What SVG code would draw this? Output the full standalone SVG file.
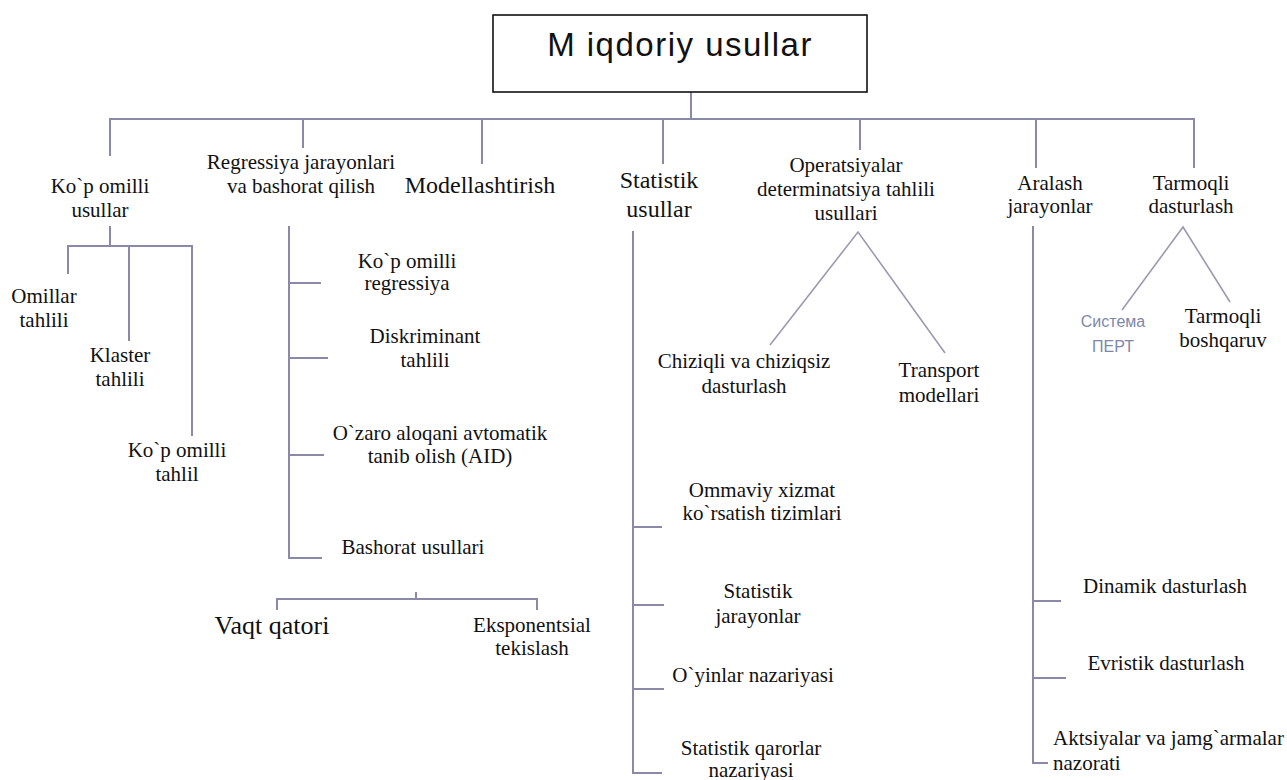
<svg xmlns="http://www.w3.org/2000/svg" width="1287" height="780" viewBox="0 0 1287 780">
  <style>
    .bg { fill: #ffffff; }
    .link { fill: none; stroke: #8a8aa8; stroke-width: 2; stroke-linecap: square; }
    .slant { fill: none; stroke: #9a9ab2; stroke-width: 1.6; }
    .box { fill: #ffffff; stroke: #111111; stroke-width: 1.6; }
    .t { font-family: "Liberation Serif", "Times New Roman", serif; font-size: 21px; fill: #111111; text-anchor: middle; }
    .big { font-size: 24px; }
    .huge { font-size: 26px; }
    .start { text-anchor: start; }
    .title { font-family: "Liberation Sans", Arial, sans-serif; font-size: 33px; letter-spacing: 1.5px; fill: #111111; text-anchor: middle; }
    .ru { font-family: "Liberation Sans", Arial, sans-serif; font-size: 16px; fill: #7d88a8; text-anchor: middle; }
  </style>

  <rect class="bg" x="0" y="0" width="1287" height="780"/>

  <!-- connectors -->
  <g id="connectors">
    <!-- root to main bar -->
    <path class="link" d="M691 92 V119"/>
    <path class="link" d="M110 119 H1194"/>
    <path class="link" d="M110 119 V155 M303 119 V147 M482 119 V163 M663 119 V163 M860 119 V149 M1036 119 V167 M1194 119 V167"/>
    <!-- multi-factor methods -->
    <path class="link" d="M110 227 V246 M68 273 V246 H192 V435 M129 246 V340"/>
    <!-- regression and forecasting -->
    <path class="link" d="M289 227 V558 H321 M289 283 H320 M289 358 H327 M289 455 H323"/>
    <path class="link" d="M277 609 V599 H537 V609 M416 593 V599"/>
    <!-- operations research -->
    <path class="slant" d="M770 345 L858 232 L945 353"/>
    <!-- statistical methods -->
    <path class="link" d="M633 232 V773 H661 M633 527 H661 M633 605 H663 M633 689 H663"/>
    <!-- mixed processes -->
    <path class="link" d="M1033 227 V763 H1047 M1033 601 H1060 M1033 678 H1065"/>
    <!-- network programming -->
    <path class="slant" d="M1122 310 L1183 227 L1230 302"/>
  </g>

  <g id="root">
    <rect class="box" x="493" y="15" width="374" height="77"/>
    <text class="title" x="680" y="56">M iqdoriy usullar</text>
  </g>

  <g id="kop-omilli-usullar">
    <text class="t" x="100" y="193">Ko`p omilli</text>
    <text class="t" x="100" y="217">usullar</text>
  </g>
  <g id="omillar-tahlili">
    <text class="t" x="44" y="303">Omillar</text>
    <text class="t" x="44" y="327">tahlili</text>
  </g>
  <g id="klaster-tahlili">
    <text class="t" x="120" y="362">Klaster</text>
    <text class="t" x="120" y="386">tahlili</text>
  </g>
  <g id="kop-omilli-tahlil">
    <text class="t" x="177" y="457">Ko`p omilli</text>
    <text class="t" x="177" y="481">tahlil</text>
  </g>

  <g id="regressiya">
    <text class="t" x="301" y="169">Regressiya jarayonlari</text>
    <text class="t" x="301" y="193">va bashorat qilish</text>
  </g>
  <g id="kop-omilli-regressiya">
    <text class="t" x="407" y="268">Ko`p omilli</text>
    <text class="t" x="407" y="290">regressiya</text>
  </g>
  <g id="diskriminant">
    <text class="t" x="425" y="343">Diskriminant</text>
    <text class="t" x="425" y="367">tahlili</text>
  </g>
  <g id="aid">
    <text class="t" x="440" y="440">O`zaro aloqani avtomatik</text>
    <text class="t" x="440" y="463">tanib olish (AID)</text>
  </g>
  <g id="bashorat-usullari">
    <text class="t" x="413" y="554">Bashorat usullari</text>
  </g>
  <g id="vaqt-qatori">
    <text class="t huge" x="272" y="634">Vaqt qatori</text>
  </g>
  <g id="eksponentsial">
    <text class="t" x="532" y="632">Eksponentsial</text>
    <text class="t" x="532" y="655">tekislash</text>
  </g>

  <g id="modellashtirish">
    <text class="t big" x="480" y="193">Modellashtirish</text>
  </g>

  <g id="statistik-usullar">
    <text class="t big" x="659" y="188">Statistik</text>
    <text class="t big" x="659" y="217">usullar</text>
  </g>
  <g id="ommaviy-xizmat">
    <text class="t" x="762" y="497">Ommaviy xizmat</text>
    <text class="t" x="762" y="520">ko`rsatish tizimlari</text>
  </g>
  <g id="statistik-jarayonlar">
    <text class="t" x="758" y="598">Statistik</text>
    <text class="t" x="758" y="623">jarayonlar</text>
  </g>
  <g id="oyinlar">
    <text class="t" x="753" y="682">O`yinlar nazariyasi</text>
  </g>
  <g id="statistik-qarorlar">
    <text class="t" x="751" y="755">Statistik qarorlar</text>
    <text class="t" x="751" y="777">nazariyasi</text>
  </g>

  <g id="operatsiyalar">
    <text class="t" x="846" y="172">Operatsiyalar</text>
    <text class="t" x="846" y="196">determinatsiya tahlili</text>
    <text class="t" x="846" y="220">usullari</text>
  </g>
  <g id="chiziqli">
    <text class="t" x="744" y="368">Chiziqli va chiziqsiz</text>
    <text class="t" x="744" y="393">dasturlash</text>
  </g>
  <g id="transport">
    <text class="t" x="939" y="377">Transport</text>
    <text class="t" x="939" y="402">modellari</text>
  </g>

  <g id="aralash">
    <text class="t" x="1050" y="190">Aralash</text>
    <text class="t" x="1050" y="213">jarayonlar</text>
  </g>
  <g id="dinamik">
    <text class="t" x="1165" y="593">Dinamik dasturlash</text>
  </g>
  <g id="evristik">
    <text class="t" x="1166" y="670">Evristik dasturlash</text>
  </g>
  <g id="aktsiyalar">
    <text class="t start" x="1053" y="745">Aktsiyalar va jamg`armalar</text>
    <text class="t start" x="1053" y="770">nazorati</text>
  </g>

  <g id="tarmoqli-dasturlash">
    <text class="t" x="1191" y="190">Tarmoqli</text>
    <text class="t" x="1191" y="213">dasturlash</text>
  </g>
  <g id="pert">
    <text class="ru" x="1113" y="327">Система</text>
    <text class="ru" x="1113" y="352">ПЕРТ</text>
  </g>
  <g id="tarmoqli-boshqaruv">
    <text class="t" x="1223" y="323">Tarmoqli</text>
    <text class="t" x="1223" y="347">boshqaruv</text>
  </g>
</svg>
